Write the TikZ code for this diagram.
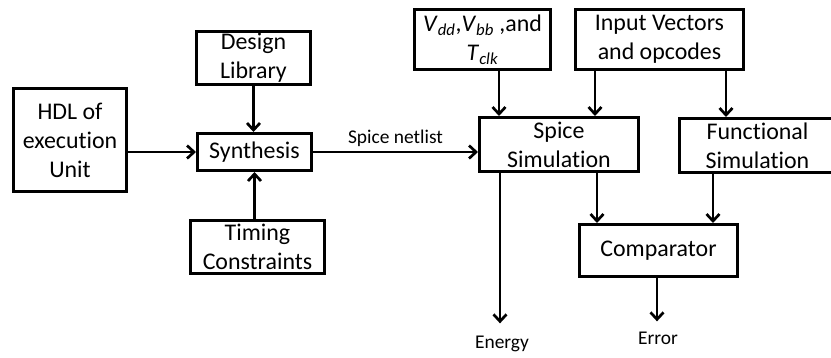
\documentclass[tikz,border=0pt]{standalone}
\usepackage{fontspec}
\setmainfont{Carlito}[Ligatures=NoCommon]
\usetikzlibrary{positioning}
\usetikzlibrary{arrows.meta}
\tikzset{%
  blockbox/.style={rectangle,draw=black,line width=2.7bp,align=center,inner sep=0pt,font=\fontsize{24}{29}\selectfont}
}
\tikzset{%
  flow/.style={line width=2.7bp,-{Straight Barb[length=7bp,width=13bp,line width=2.7bp]}}
}
\tikzset{%
  smalltext/.style={inner sep=3bp,font=\fontsize{19.5}{22}\selectfont}
}
\newcommand{\sig}[2]{\textit{#1}\textsubscript{\textit{#2}}}

\begin{document}
\begin{tikzpicture}[x=1bp,y=-1bp]
        \useasboundingbox (0,0) rectangle (831,357);
        \node[blockbox,minimum width=113.3bp,minimum height=103.3bp](hdl) at (70,140) {HDL of\\execution\\Unit};
        \node[blockbox,minimum width=114.3bp,minimum height=53.3bp](lib) at (253.5,58) {Design\\Library};
        \node[blockbox,minimum width=114.3bp,minimum height=37.3bp](syn) at (254.5,152) {Synthesis};
        \node[blockbox,minimum width=134.3bp,minimum height=53.3bp](tim) at (257.5,247) {Timing\\Constraints};

        \node[blockbox,minimum width=136.3bp,minimum height=60.3bp](vdd) at (482.5,39.5) {\sig{V}{dd},\sig{V}{bb} ,and\\\sig{T}{clk}};
        \node[blockbox,minimum width=168.3bp,minimum height=60.3bp](inp) at (659.5,39.5) {Input Vectors\\and opcodes};
        \node[blockbox,minimum width=159.3bp,minimum height=54.3bp](spice) at (559,144.5) {Spice\\Simulation};
        \node[blockbox,minimum width=156.6bp,minimum height=54.3bp](func) at (757.5,145.5) {Functional\\Simulation};
        \node[blockbox,minimum width=158.3bp,minimum height=52.3bp](comp) at (658.5,250.5) {Comparator};

        \node[smalltext,anchor=base](energy) at (502,348) {Energy};
        \node[smalltext,anchor=base](error) at (658,344) {Error};

        \draw[flow] (hdl.east |- syn.west) -- (syn.west);
        \draw[flow] (lib.south) -- (lib.south |- syn.north);
        \draw[flow] (syn.south |- tim.north) -- (syn.south);
        \draw[flow] (syn.east) -- node[smalltext,above,inner sep=4bp](netlist){Spice netlist} (syn.east -| spice.west);

        \draw[flow] ([xshift=16.5bp]vdd.south) -- ([xshift=16.5bp]vdd.south |- spice.north);
        \draw[flow] ([xshift=-64.5bp]inp.south) -- ([xshift=-64.5bp]inp.south |- spice.north);
        \draw[flow] ([xshift=66.5bp]inp.south) -- ([xshift=66.5bp]inp.south |- func.north);
        \draw[flow] ([xshift=38bp]spice.south) -- ([xshift=38bp]spice.south |- comp.north);
        \draw[flow] ([xshift=-44.5bp]func.south) -- ([xshift=-44.5bp]func.south |- comp.north);

        \draw[flow,shorten >=9bp] ([xshift=-59bp]spice.south) -- ([xshift=-59bp]spice.south |- energy.north);
        \draw[flow,shorten >=7bp] ([xshift=-1.5bp]comp.south) -- ([xshift=-1.5bp]comp.south |- error.north);
      \end{tikzpicture}
\end{document}
